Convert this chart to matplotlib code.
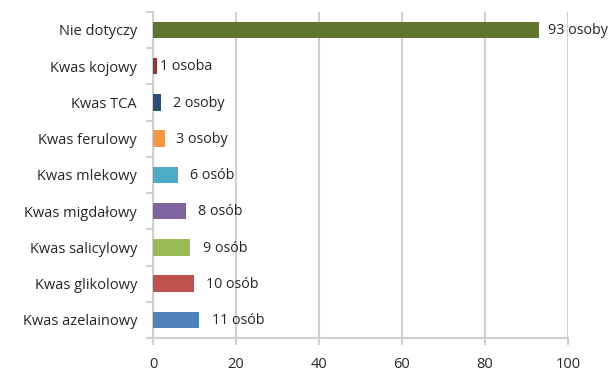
import matplotlib
matplotlib.use("Agg")
import matplotlib.pyplot as plt
import numpy as np

plt.rcParams['font.family'] = ['Open Sans', 'DejaVu Sans']

categories = ["Kwas azelainowy", "Kwas glikolowy", "Kwas salicylowy", "Kwas migdałowy",
              "Kwas mlekowy", "Kwas ferulowy", "Kwas TCA", "Kwas kojowy", "Nie dotyczy"]
values = [11, 10, 9, 8, 6, 3, 2, 1, 93]
value_labels = ["11 osób", "10 osób", "9 osób", "8 osób", "6 osób",
                "3 osoby", "2 osoby", "1 osoba", "93 osoby"]
colors = ["#4f81bd", "#c0504d", "#9bbb59", "#8064a2", "#4bacc6",
          "#f79646", "#2c4d75", "#943634", "#5f7530"]
label_pad = [13, 12, 13, 12, 12, 11, 12, 3, 9]  # pixel offset from bar end
x_ticks = [0, 20, 40, 60, 80, 100]

fig = plt.figure(figsize=(6.12, 3.72), dpi=100)
ax = fig.add_axes([0.25, 0.0914, 0.678, 0.877])

y = np.arange(len(categories))
ax.barh(y, values, height=0.45, color=colors, zorder=3)

for yi, v, lab, pad in zip(y, values, value_labels, label_pad):
    ax.annotate(lab, xy=(v, yi), xytext=(pad * 0.72, -0.5), textcoords="offset points",
                va="center", ha="left", fontsize=10.3, color="#262626", zorder=4)

grid_c = "#d0d0d0"
ax.set_xlim(0, 100)
ax.set_ylim(-0.5, len(categories) - 0.5)
ax.set_xticks(x_ticks)
ax.set_xticklabels([str(t) for t in x_ticks])
ax.xaxis.grid(True, color=grid_c, linewidth=1.5, zorder=0)

ax.set_yticks(y)
ax.set_yticklabels(categories)
ax.set_yticks(np.arange(-0.5, len(categories), 1.0), minor=True)
ax.tick_params(axis="y", which="major", length=0, pad=11.5, labelsize=10.5, labelcolor="#262626")
ax.tick_params(axis="y", which="minor", length=5, width=1.5, color=grid_c)
ax.tick_params(axis="x", which="major", length=5, width=1.5, color=grid_c, pad=9,
               labelsize=10.5, labelcolor="#262626")

for side in ["top", "right"]:
    ax.spines[side].set_visible(False)
for side in ["left", "bottom"]:
    ax.spines[side].set_color(grid_c)
    ax.spines[side].set_linewidth(1.5)

fig.savefig("out.png", dpi=100)
